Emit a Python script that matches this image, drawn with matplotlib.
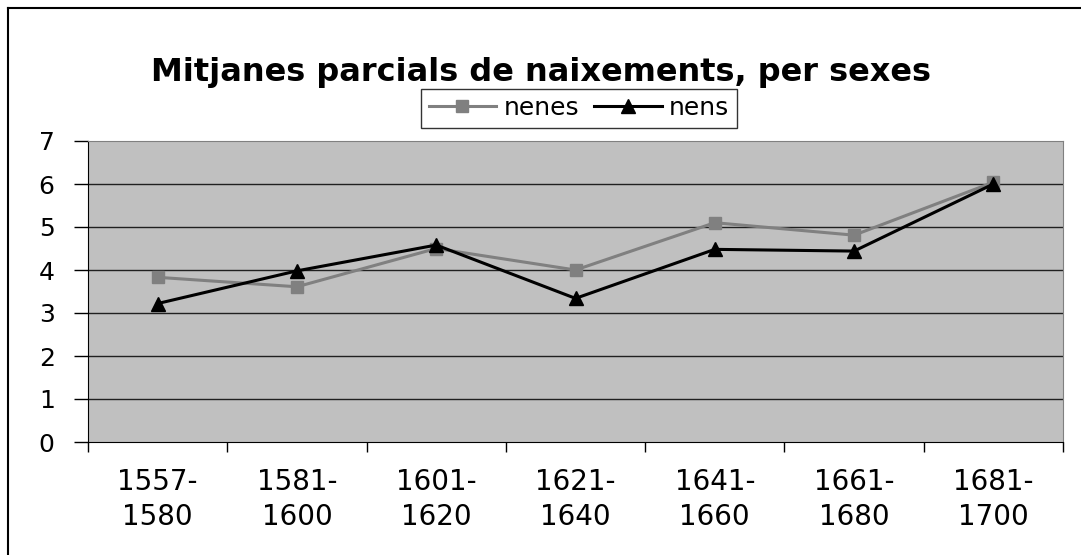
import matplotlib
matplotlib.use("Agg")
import matplotlib.pyplot as plt
from matplotlib.lines import Line2D

plt.rcParams['font.family'] = ['DejaVu Sans']

# data
periods = ["1557-\n1580", "1581-\n1600", "1601-\n1620", "1621-\n1640",
           "1641-\n1660", "1661-\n1680", "1681-\n1700"]
nenes = [3.83, 3.61, 4.5, 4.0, 5.1, 4.81, 6.04]
nens = [3.22, 3.98, 4.58, 3.34, 4.48, 4.44, 6.0]
yticks = [0, 1, 2, 3, 4, 5, 6, 7]

W, H = 1081, 555
fig = plt.figure(figsize=(W / 100, H / 100), dpi=100)
ax = fig.add_axes([88 / W, 1 - 442 / H, (1063 - 88) / W, (442 - 141) / H])
ax.set_facecolor("#C0C0C0")

x = list(range(len(periods)))
ax.plot(x, nenes, color="#808080", lw=2.2, marker="s", ms=9, label="nenes", zorder=3)
ax.plot(x, nens, color="black", lw=2.2, marker="^", ms=10, label="nens", zorder=4)

ax.set_xlim(-0.5, len(periods) - 0.5)
ax.set_ylim(0, 7)
ax.set_yticks(yticks)
ax.set_yticklabels([str(v) for v in yticks], fontsize=18)
for v in yticks[1:-1]:
    ax.axhline(v, color="#202020", lw=1.0, zorder=1)

# category labels centred, ticks at the boundaries
ax.set_xticks(x)
ax.set_xticklabels(periods, fontsize=20, linespacing=1.3)
ax.tick_params(axis="x", length=0, pad=19)
ax.set_xticks([i - 0.5 for i in range(len(periods) + 1)], minor=True)
ax.tick_params(axis="x", which="minor", length=7, width=1, color="black", direction="out")
ax.tick_params(axis="y", length=10, width=1, pad=14, direction="out")

for s in ["left", "bottom"]:
    ax.spines[s].set_color("black")
for s in ["top", "right"]:
    ax.spines[s].set_color("#808080")

fig.text(541 / W, 1 - 73 / H, "Mitjanes parcials de naixements, per sexes",
         ha="center", va="center", fontsize=23, fontweight="bold")

leg = fig.legend(loc="center", bbox_to_anchor=(579 / W, 1 - 108 / H), ncol=2,
                 fontsize=18, frameon=True, fancybox=False, handlelength=2.7,
                 handletextpad=0.3, columnspacing=0.6, borderpad=0.3,
                 borderaxespad=0)
leg.get_frame().set_edgecolor("black")
leg.get_frame().set_linewidth(1.0)

# chart border (left and top edges visible in the crop)
fig.add_artist(Line2D([8 / W, 8 / W], [0, 1 - 8 / H], transform=fig.transFigure,
                      color="black", lw=1.5))
fig.add_artist(Line2D([8 / W, 1], [1 - 8 / H, 1 - 8 / H], transform=fig.transFigure,
                      color="black", lw=1.5))

fig.savefig("out.png", dpi=100)
